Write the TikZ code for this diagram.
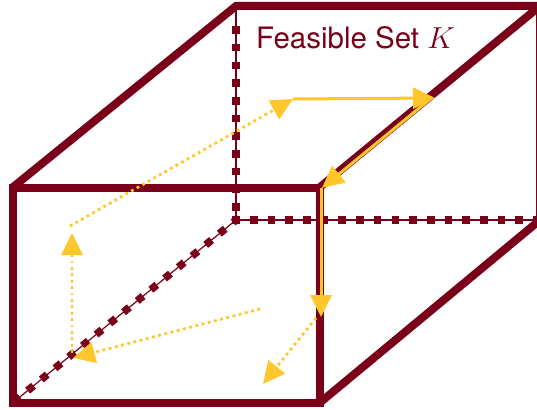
\documentclass[tikz,border=0pt]{standalone}
\usepackage{fontspec}
\setmainfont{TeX Gyre Heros}
\usetikzlibrary{arrows.meta,calc}
\definecolor{cubemaroon}{HTML}{7A0019}
\definecolor{stepgold}{HTML}{FFC72C}
\tikzset{
  edge/.style={draw=cubemaroon, line width=8pt, line join=miter},
  hiddenthin/.style={draw=cubemaroon, line width=1.2pt},
  hiddendash/.style={draw=cubemaroon, line width=7.6pt, dash pattern=on 7.6pt off 10.1pt},
  goldhead/.style={-{Triangle[length=22pt,width=21pt]}},
  goldsolid/.style={draw=stepgold, line width=3pt, goldhead},
  golddotted/.style={draw=stepgold, line width=2.8pt, dash pattern=on 2.8pt off 3.6pt, goldhead},
}
\begin{document}
\begin{tikzpicture}[x=1pt,y=-1pt]
\clip (0,0) rectangle (537,409);
% cube corners
\coordinate (fTL) at (12.5,187.5);
\coordinate (fTR) at (319.5,187.5);
\coordinate (fBR) at (319.5,403);
\coordinate (fBL) at (12.5,403);
\coordinate (bTL) at (236,6);
\coordinate (bTR) at (540,6);
\coordinate (bBR) at (540,220);
\coordinate (bBL) at (236,220);
% hidden edges
\draw[hiddenthin] (bTL) -- (bBL);
\draw[hiddenthin] (bBL) -- (bBR);
\draw[hiddenthin] (bBL) -- (fBL);
\draw[hiddendash] (236,210.8) -- (236,26);
\draw[hiddendash] (232.2,220) -- (bBR);
\draw[hiddendash] ($(bBL)!-3.8pt!(fBL)$) -- (fBL);
% visible edges
\draw[edge] (fTL) -- (fTR) -- (fBR) -- (fBL) -- cycle;
\draw[edge] (fTL) -- (bTL) -- (bTR) -- (bBR) -- (fBR);
\draw[edge] (fTR) -- (bTR);
% label
\node[anchor=base west, text=cubemaroon, inner sep=0pt,
      font=\fontsize{29.5}{32}\selectfont] (title) at (256,49) {Feasible Set \scalebox{1.22}{$K$}};
% iterate points
\coordinate (p0) at (260,309);
\coordinate (p1) at (73,358);
\coordinate (p1s) at (72,353);
\coordinate (p2) at (72,233);
\coordinate (p2s) at (70,226);
\coordinate (p3) at (293,99);
\coordinate (p4) at (435,98);
\coordinate (p4s) at (432,97.5);
\coordinate (p5) at (322,188);
\coordinate (p5s) at (321,188);
\coordinate (p6) at (321,317);
\coordinate (p6s) at (316,318);
\coordinate (p7) at (263,384);
% steps
\draw[golddotted] (p0) -- (p1);
\draw[golddotted] (p1s) -- (p2);
\draw[golddotted] (p2s) -- (p3);
\draw[goldsolid] (p3) -- (p4);
\draw[goldsolid] (p4s) -- (p5);
\draw[goldsolid] (p5s) -- (p6);
\draw[golddotted] (p6s) -- (p7);
\end{tikzpicture}
\end{document}
